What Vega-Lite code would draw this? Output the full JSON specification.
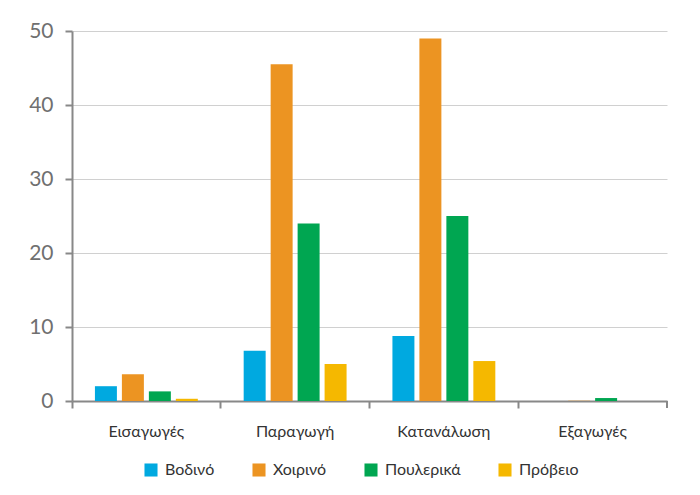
{
  "$schema": "https://vega.github.io/schema/vega-lite/v6.json",
  "width": 595,
  "height": 370,
  "autosize": {"type": "none"},
  "padding": {"left": 72, "top": 31, "right": 33, "bottom": 94},
  "background": "white",
  "config": {
    "font": "Lato",
    "view": {"stroke": null}
  },
  "data": {
    "values": [
      {"cat": "Εισαγωγές", "type": "Βοδινό", "v": 2.0},
      {"cat": "Εισαγωγές", "type": "Χοιρινό", "v": 3.6},
      {"cat": "Εισαγωγές", "type": "Πουλερικά", "v": 1.3},
      {"cat": "Εισαγωγές", "type": "Πρόβειο", "v": 0.3},
      {"cat": "Παραγωγή", "type": "Βοδινό", "v": 6.8},
      {"cat": "Παραγωγή", "type": "Χοιρινό", "v": 45.5},
      {"cat": "Παραγωγή", "type": "Πουλερικά", "v": 24.0},
      {"cat": "Παραγωγή", "type": "Πρόβειο", "v": 5.0},
      {"cat": "Κατανάλωση", "type": "Βοδινό", "v": 8.8},
      {"cat": "Κατανάλωση", "type": "Χοιρινό", "v": 49.0},
      {"cat": "Κατανάλωση", "type": "Πουλερικά", "v": 25.0},
      {"cat": "Κατανάλωση", "type": "Πρόβειο", "v": 5.4},
      {"cat": "Εξαγωγές", "type": "Βοδινό", "v": 0},
      {"cat": "Εξαγωγές", "type": "Χοιρινό", "v": 0.05},
      {"cat": "Εξαγωγές", "type": "Πουλερικά", "v": 0.4},
      {"cat": "Εξαγωγές", "type": "Πρόβειο", "v": 0}
    ]
  },
  "layer": [
    {
      "mark": {"type": "bar"},
      "encoding": {
        "x": {
          "field": "cat",
          "type": "nominal",
          "sort": ["Εισαγωγές", "Παραγωγή", "Κατανάλωση", "Εξαγωγές"],
          "scale": {"paddingInner": 0, "paddingOuter": 0},
          "axis": {
            "title": null,
            "labelAngle": 0,
            "bandPosition": 0,
            "labelFont": "Lato",
            "labelFontSize": 16,
            "labelColor": "#333333",
            "labelPadding": 15,
            "tickSize": 7,
            "tickColor": "#888888",
            "tickWidth": 2,
            "domainColor": "#888888",
            "domainWidth": 2,
            "grid": false
          }
        },
        "xOffset": {
          "field": "type",
          "type": "nominal",
          "sort": ["Βοδινό", "Χοιρινό", "Πουλερικά", "Πρόβειο"],
          "scale": {"paddingInner": 0.185, "paddingOuter": 0.85}
        },
        "y": {
          "field": "v",
          "type": "quantitative",
          "scale": {"domain": [0, 50], "nice": false},
          "axis": {
            "title": null,
            "values": [0, 10, 20, 30, 40, 50],
            "labelFont": "Lato",
            "labelFontSize": 21,
            "labelColor": "#707070",
            "labelPadding": 12,
            "tickSize": 7,
            "tickColor": "#888888",
            "tickWidth": 2,
            "domainColor": "#888888",
            "domainWidth": 2,
            "gridColor": "#d0d0d0",
            "gridWidth": 1
          }
        },
        "color": {
          "field": "type",
          "type": "nominal",
          "sort": ["Βοδινό", "Χοιρινό", "Πουλερικά", "Πρόβειο"],
          "scale": {
            "domain": ["Βοδινό", "Χοιρινό", "Πουλερικά", "Πρόβειο"],
            "range": ["#00a9e0", "#ec9422", "#00a651", "#f5b800"]
          },
          "legend": {
            "title": null,
            "orient": "none",
            "legendX": 71,
            "legendY": 431,
            "direction": "horizontal",
            "symbolType": "square",
            "symbolSize": 170,
            "symbolStrokeWidth": 0,
            "labelFont": "Lato",
            "labelFontSize": 16,
            "labelColor": "#333333",
            "labelOffset": 6,
            "columnPadding": 36
          }
        }
      }
    },
    {
      "data": {"values": [{"cat": "Εξαγωγές"}]},
      "mark": {"type": "rule", "color": "#888888", "strokeWidth": 2, "clip": false},
      "encoding": {
        "x": {"datum": "Εξαγωγές", "bandPosition": 1},
        "y": {"datum": 0},
        "y2": {"datum": -0.95}
      }
    }
  ]
}
